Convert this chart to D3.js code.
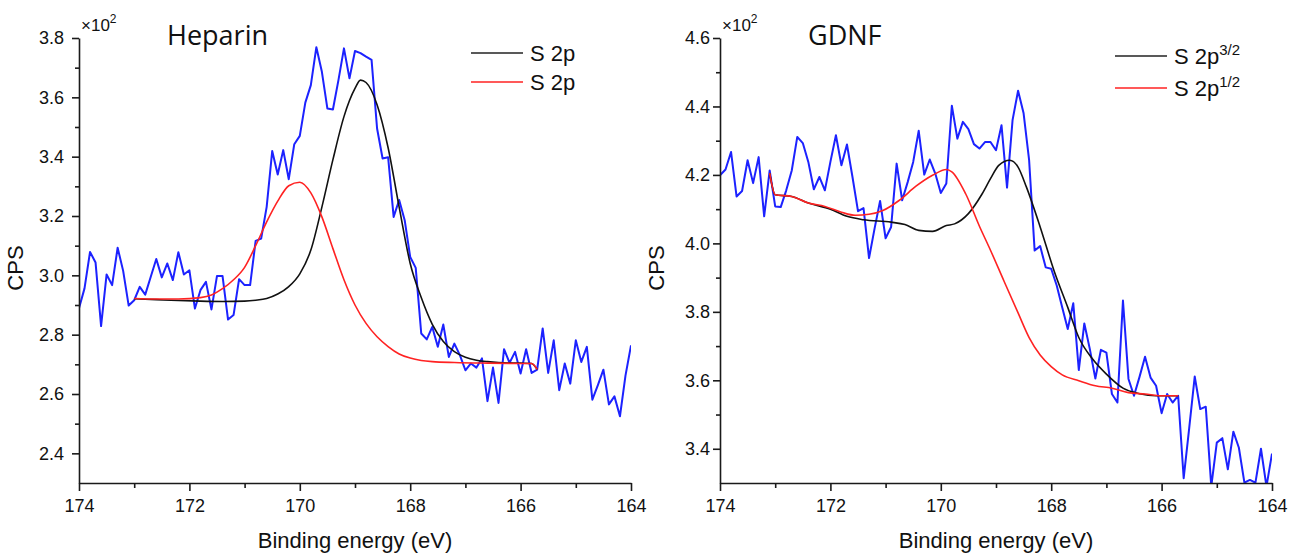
<!DOCTYPE html>
<html>
<head>
<meta charset="utf-8">
<script src="https://cdn.jsdelivr.net/npm/d3@7/dist/d3.min.js"></script>
<style>
  body { margin: 0; background: #fff; }
  svg text { font-family: "Liberation Sans", Arial, sans-serif; fill: #111; }
</style>
</head>
<body>
<svg id="chart" width="1290" height="553"></svg>
<script>
// binding energy grid of the raw scans (eV)
var bindingEnergy = [174.0,173.9,173.8,173.7,173.6,173.5,173.4,173.3,173.2,173.1,
  173.0,172.9,172.8,172.7,172.6,172.5,172.4,172.3,172.2,172.1,
  172.0,171.9,171.8,171.7,171.6,171.5,171.4,171.3,171.2,171.1,
  171.0,170.9,170.8,170.7,170.6,170.5,170.4,170.3,170.2,170.1,
  170.0,169.9,169.8,169.7,169.6,169.5,169.4,169.3,169.2,169.1,
  169.0,168.9,168.8,168.7,168.6,168.5,168.4,168.3,168.2,168.1,
  168.0,167.9,167.8,167.7,167.6,167.5,167.4,167.3,167.2,167.1,
  167.0,166.9,166.8,166.7,166.6,166.5,166.4,166.3,166.2,166.1,
  166.0,165.9,165.8,165.7,165.6,165.5,165.4,165.3,165.2,165.1,
  165.0,164.9,164.8,164.7,164.6,164.5,164.4,164.3,164.2,164.1,164.0];

// Heparin raw counts (x10^2 CPS)
var heparinRaw = [2.889,2.956,3.079,3.043,2.829,3.003,2.967,3.093,3.015,2.898,
  2.916,2.961,2.935,2.995,3.055,2.993,3.040,2.984,3.078,3.003,
  3.017,2.888,2.950,2.978,2.885,2.998,2.998,2.851,2.866,2.987,
  2.967,2.967,3.116,3.124,3.231,3.419,3.340,3.422,3.324,3.442,
  3.470,3.582,3.641,3.769,3.686,3.562,3.559,3.658,3.765,3.664,
  3.756,3.749,3.737,3.726,3.495,3.394,3.398,3.197,3.254,3.186,
  3.062,3.025,2.804,2.784,2.826,2.759,2.834,2.725,2.770,2.731,
  2.680,2.703,2.689,2.720,2.576,2.689,2.570,2.751,2.705,2.742,
  2.669,2.751,2.671,2.682,2.821,2.671,2.781,2.613,2.703,2.635,
  2.781,2.708,2.759,2.581,2.630,2.682,2.565,2.592,2.525,2.662,2.764];

// Heparin fitted components
var heparinFitAE = [173.0,172.6,172.2,171.8,171.4,171.0,170.8,170.6,170.4,170.2,170.0,169.8,169.6,169.4,169.2,169.0,168.9,168.8,168.6,168.4,168.2,168.0,167.8,167.6,167.4,167.2,167.0,166.8,166.6,166.4,166.0,165.8,165.7];
var heparinFitA = [2.921,2.918,2.915,2.913,2.912,2.913,2.916,2.922,2.937,2.962,3.005,3.085,3.230,3.390,3.535,3.630,3.658,3.650,3.575,3.430,3.230,3.040,2.925,2.835,2.777,2.743,2.724,2.714,2.709,2.706,2.704,2.703,2.683];
var heparinFitBE = [173.0,172.6,172.2,171.8,171.6,171.4,171.2,171.0,170.8,170.6,170.4,170.2,170.0,169.8,169.6,169.4,169.2,169.0,168.8,168.6,168.4,168.2,168.0,167.8,167.6,167.2,166.6,166.0,165.8,165.7];
var heparinFitB = [2.922,2.920,2.920,2.925,2.934,2.955,2.985,3.027,3.100,3.180,3.250,3.302,3.314,3.278,3.197,3.090,2.985,2.900,2.838,2.793,2.760,2.735,2.721,2.713,2.709,2.706,2.704,2.703,2.703,2.683];

// GDNF raw counts (x10^2 CPS)
var gdnfRaw = [4.199,4.216,4.267,4.137,4.153,4.243,4.176,4.252,4.079,4.213,
  4.108,4.106,4.155,4.213,4.311,4.293,4.238,4.158,4.194,4.155,
  4.238,4.316,4.228,4.289,4.194,4.094,4.103,3.957,4.043,4.124,
  4.015,4.048,4.233,4.126,4.179,4.238,4.329,4.201,4.245,4.204,
  4.147,4.175,4.402,4.306,4.355,4.334,4.290,4.277,4.296,4.296,
  4.272,4.345,4.163,4.360,4.446,4.380,4.243,3.979,3.992,3.930,
  3.926,3.877,3.813,3.750,3.825,3.630,3.766,3.691,3.605,3.689,
  3.681,3.560,3.535,3.833,3.604,3.555,3.610,3.669,3.608,3.584,
  3.504,3.560,3.535,3.555,3.314,3.460,3.611,3.516,3.523,3.290,
  3.418,3.431,3.340,3.450,3.403,3.301,3.309,3.301,3.400,3.290,3.386];

// GDNF fitted components
var gdnfFitAE = [173.1,173.0,172.7,172.4,172.0,171.7,171.4,170.9,170.65,170.4,170.15,169.9,169.75,169.5,169.25,169.1,168.95,168.75,168.6,168.45,168.2,167.95,167.7,167.5,167.25,167.0,166.7,166.4,166.1,165.7];
var gdnfFitA = [4.205,4.142,4.137,4.118,4.100,4.079,4.069,4.062,4.055,4.038,4.035,4.052,4.057,4.087,4.145,4.189,4.228,4.243,4.223,4.165,4.048,3.921,3.813,3.725,3.662,3.618,3.577,3.561,3.555,3.555];
var gdnfFitBE = [173.1,173.0,172.7,172.4,172.1,171.8,171.55,171.3,171.05,170.75,170.45,170.15,169.9,169.8,169.55,169.3,169.1,168.85,168.6,168.4,168.2,168.0,167.8,167.5,167.2,166.9,166.6,166.3,166.0,165.7];
var gdnfFitB = [4.205,4.142,4.137,4.118,4.108,4.091,4.082,4.085,4.096,4.126,4.167,4.199,4.216,4.209,4.145,4.050,3.980,3.888,3.797,3.725,3.674,3.640,3.616,3.599,3.584,3.577,3.564,3.560,3.555,3.555];

// axis ticks
var xMajor = [174, 172, 170, 168, 166, 164];
var xMinor = [173, 171, 169, 167, 165];
var heparinYMajor = [2.4, 2.6, 2.8, 3.0, 3.2, 3.4, 3.6, 3.8];
var heparinYMinor = [2.5, 2.7, 2.9, 3.1, 3.3, 3.5, 3.7];
var gdnfYMajor = [3.4, 3.6, 3.8, 4.0, 4.2, 4.4, 4.6];
var gdnfYMinor = [3.5, 3.7, 3.9, 4.1, 4.3, 4.5];

var svg = d3.select("#chart");

function pts(xs, ys) {
    return xs.map((d, i) => [d, ys[i]]);
}

function drawPanel(cfg) {
    var left = cfg.left, w = 552, top = 38, bottom = 483;
    var x = d3.scaleLinear().domain([174, 164]).range([left, left + w]);
    var y = d3.scaleLinear().domain(cfg.yDomain).range([bottom, top]);

    var g = svg.append("g");

    g.append("clipPath").attr("id", cfg.id + "-clip")
      .append("rect")
        .attr("x", left).attr("y", top)
        .attr("width", w).attr("height", bottom - top);

    var line = d3.line().x(d => x(d[0])).y(d => y(d[1]));
    var smooth = d3.line().x(d => x(d[0])).y(d => y(d[1])).curve(d3.curveMonotoneX);

    var plot = g.append("g").attr("clip-path", `url(#${cfg.id}-clip)`);

    plot.append("path")
        .datum(pts(bindingEnergy, cfg.raw))
        .attr("fill", "none")
        .attr("stroke", "#1c22ff")
        .attr("stroke-width", 2)
        .attr("stroke-linejoin", "round")
        .attr("d", line);

    // reversed so the curve is drawn in ascending x order for monotone
    plot.append("path")
        .datum(pts(cfg.fitAE, cfg.fitA).reverse())
        .attr("fill", "none")
        .attr("stroke", "#111")
        .attr("stroke-width", 1.6)
        .attr("d", smooth);

    plot.append("path")
        .datum(pts(cfg.fitBE, cfg.fitB).reverse())
        .attr("fill", "none")
        .attr("stroke", "#ff2222")
        .attr("stroke-width", 1.6)
        .attr("d", smooth);

    // axes
    g.append("g")
        .attr("transform", `translate(${left},0)`)
        .call(d3.axisLeft(y).tickValues(cfg.yMajor).tickFormat(d3.format(".1f"))
            .tickSize(7).tickSizeOuter(0).tickPadding(cfg.yPad));
    g.append("g")
        .attr("transform", `translate(${left},0)`)
        .call(d3.axisLeft(y).tickValues(cfg.yMinor).tickFormat("").tickSize(4).tickSizeOuter(0))
        .select(".domain").remove();

    g.append("g")
        .attr("transform", `translate(0,${bottom})`)
        .call(d3.axisBottom(x).tickValues(xMajor).tickFormat(d3.format("d"))
            .tickSize(8).tickSizeOuter(0).tickPadding(8));
    g.append("g")
        .attr("transform", `translate(0,${bottom})`)
        .call(d3.axisBottom(x).tickValues(xMinor).tickFormat("").tickSize(5).tickSizeOuter(0))
        .select(".domain").remove();

    g.selectAll(".domain, .tick line").attr("stroke", "#1a1a1a").attr("stroke-width", 1.6);
    g.selectAll(".tick text")
        .attr("font-family", '"Liberation Sans", Arial, sans-serif')
        .attr("font-size", 18)
        .style("font-size", "18px")
        .attr("fill", "#222");

    // multiplier
    var mult = g.append("text")
        .attr("x", left + 2).attr("y", 31)
        .style("font-size", "17px");
    mult.append("tspan").text("\u00d710");
    mult.append("tspan").attr("dy", -8).style("font-size", "12px").text("2");

    // axis titles
    g.append("text")
        .attr("transform", `translate(${left - 56},${268}) rotate(-90)`)
        .attr("text-anchor", "middle")
        .style("font-size", "22px")
        .text("CPS");

    g.append("text")
        .attr("x", left + w / 2).attr("y", 548)
        .attr("text-anchor", "middle")
        .style("font-size", "22px")
        .text("Binding energy (eV)");

    // panel title
    g.append("text")
        .attr("x", cfg.titleX).attr("y", 45)
        .style("font-family", '"Open Sans", sans-serif')
        .style("font-size", "27px")
        .text(cfg.title);

    // legend
    var leg = g.append("g").attr("transform", `translate(${cfg.legX},${cfg.legY})`);
    cfg.legend.forEach((item, i) => {
        var row = leg.append("g").attr("transform", `translate(0,${i * cfg.legStep})`);
        row.append("line")
            .attr("x1", 0).attr("x2", 52).attr("y1", 0).attr("y2", 0)
            .attr("stroke", item.color).attr("stroke-width", 1.6);
        var t = row.append("text").attr("x", 59).attr("y", 8).style("font-size", "22px");
        t.append("tspan").text(item.label);
        if (item.sup) {
            t.append("tspan").attr("dy", -9).style("font-size", "15px").text(item.sup);
        }
    });
}

drawPanel({
    id: "heparin", left: 79, yDomain: [2.3, 3.8],
    raw: heparinRaw, fitAE: heparinFitAE, fitA: heparinFitA, fitBE: heparinFitBE, fitB: heparinFitB,
    yMajor: heparinYMajor, yMinor: heparinYMinor, yPad: 8,
    title: "Heparin", titleX: 167,
    legX: 471, legY: 53, legStep: 29,
    legend: [{label: "S 2p", color: "#222"}, {label: "S 2p", color: "#ff2222"}]
});

drawPanel({
    id: "gdnf", left: 720, yDomain: [3.3, 4.6],
    raw: gdnfRaw, fitAE: gdnfFitAE, fitA: gdnfFitA, fitBE: gdnfFitBE, fitB: gdnfFitB,
    yMajor: gdnfYMajor, yMinor: gdnfYMinor, yPad: 3,
    title: "GDNF", titleX: 808,
    legX: 1115, legY: 56, legStep: 32,
    legend: [{label: "S 2p", sup: "3/2", color: "#222"}, {label: "S 2p", sup: "1/2", color: "#ff2222"}]
});
</script>
</body>
</html>
